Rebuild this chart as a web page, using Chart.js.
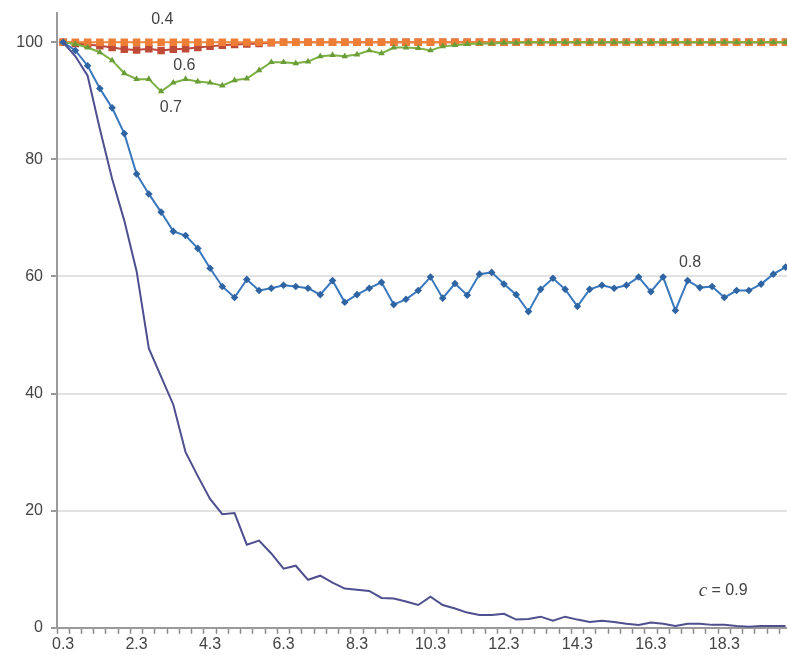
<!DOCTYPE html>
<html>
<head>
<meta charset="utf-8">
<script src="https://cdn.jsdelivr.net/npm/chart.js@4"></script>
<style>
  html, body { margin: 0; padding: 0; background: #fff; overflow: hidden; }
  #wrap { position: relative; width: 797px; height: 655px; }
</style>
</head>
<body>
<div id="wrap"><canvas id="decayChart"></canvas></div>
<script>
// Share of surviving runs (%) over time, one curve per c value

// time steps of 1/3, shown with one decimal (0.3, 0.7, 1.0, ...)
const steps = [];
for (let k = 1; k <= 60; k++) steps.push((k / 3).toFixed(1));

const c09 = [
  100, 97.6, 94.3, 85.2, 76.7, 69.5, 60.9, 47.7, 42.9, 38.1,
  30.0, 25.9, 22.0, 19.4, 19.6, 14.2, 14.9, 12.7, 10.1, 10.6,
  8.2, 8.9, 7.7, 6.7, 6.5, 6.3, 5.1, 5.0, 4.5, 3.9,
  5.3, 3.9, 3.3, 2.6, 2.2, 2.2, 2.4, 1.4, 1.5, 1.9,
  1.2, 1.9, 1.4, 1.0, 1.2, 1.0, 0.7, 0.5, 0.9, 0.7,
  0.3, 0.7, 0.7, 0.5, 0.5, 0.3, 0.2, 0.3, 0.3, 0.3,
];

const c08 = [
  100, 98.6, 96.0, 92.1, 88.8, 84.4, 77.5, 74.1, 71.0, 67.7,
  67.0, 64.8, 61.4, 58.3, 56.4, 59.5, 57.6, 58.0, 58.5, 58.3,
  58.0, 56.9, 59.3, 55.6, 56.9, 58.0, 59.0, 55.2, 56.1, 57.6,
  59.9, 56.3, 58.8, 56.8, 60.4, 60.7, 58.7, 56.9, 54.0, 57.8,
  59.7, 57.8, 54.9, 57.8, 58.5, 58.0, 58.5, 59.9, 57.4, 59.9,
  54.2, 59.3, 58.1, 58.3, 56.4, 57.6, 57.6, 58.7, 60.4, 61.6,
];

const c07 = [
  100, 99.7, 99.1, 98.3, 96.9, 94.7, 93.7, 93.7, 91.6, 93.1,
  93.7, 93.3, 93.1, 92.6, 93.5, 93.8, 95.2, 96.6, 96.6, 96.4,
  96.7, 97.6, 97.8, 97.6, 97.9, 98.6, 98.1, 99.1, 99.1, 99.0,
  98.6, 99.3, 99.5, 99.7, 99.8, 99.8, 99.9, 99.9, 100, 100,
  100, 100, 100, 100, 100, 100, 100, 100, 100, 100,
  100, 100, 100, 100, 100, 100, 100, 100, 100, 100,
];

const c06 = [
  100, 99.8, 99.6, 99.4, 99.1, 98.8, 98.7, 98.9, 98.6, 98.8,
  98.9, 99.1, 99.3, 99.5, 99.6, 99.7, 99.8, 99.9, 100, 100,
  100, 100, 100, 100, 100, 100, 100, 100, 100, 100,
  100, 100, 100, 100, 100, 100, 100, 100, 100, 100,
  100, 100, 100, 100, 100, 100, 100, 100, 100, 100,
  100, 100, 100, 100, 100, 100, 100, 100, 100, 100,
];

const c04 = [
  100, 100, 100, 100, 100, 100, 100, 100, 100, 100,
  100, 100, 100, 100, 100, 100, 100, 100, 100, 100,
  100, 100, 100, 100, 100, 100, 100, 100, 100, 100,
  100, 100, 100, 100, 100, 100, 100, 100, 100, 100,
  100, 100, 100, 100, 100, 100, 100, 100, 100, 100,
  100, 100, 100, 100, 100, 100, 100, 100, 100, 100,
];

const yTicks = [0, 20, 40, 60, 80, 100];

// curve labels: text, step index, value
const notes = [
  { text: "0.4", at: 8.1, value: 103.8 },
  { text: "0.6", at: 9.9, value: 96.1 },
  { text: "0.7", at: 8.8, value: 88.9 },
  { text: "0.8", at: 51.2, value: 62.4 },
];
const cNote = { at: 53.9, value: 6.3 };

const FONT = "'Liberation Sans', Arial, sans-serif";

const notesPlugin = {
  id: "notes",
  afterDatasetsDraw(chart) {
    const ctx = chart.ctx;
    const x = chart.scales.x;
    const y = chart.scales.y;
    ctx.save();
    ctx.fillStyle = "#444";
    ctx.textBaseline = "middle";
    ctx.textAlign = "center";
    ctx.font = "16px " + FONT;
    notes.forEach((n) => {
      ctx.fillText(n.text, x.getPixelForValue(n.at), y.getPixelForValue(n.value));
    });
    // "c = 0.9" with an italic c
    const px = x.getPixelForValue(cNote.at);
    const py = y.getPixelForValue(cNote.value);
    ctx.font = "italic 19px 'Liberation Serif', serif";
    const w1 = ctx.measureText("c").width;
    ctx.font = "16px " + FONT;
    const w2 = ctx.measureText(" = 0.9").width;
    let left = px - (w1 + w2) / 2;
    ctx.textAlign = "left";
    ctx.font = "italic 19px 'Liberation Serif', serif";
    ctx.fillText("c", left, py);
    ctx.font = "16px " + FONT;
    ctx.fillText(" = 0.9", left + w1, py);
    ctx.restore();
  },
};

const data = {
  labels: steps,
  datasets: [
    {
      label: "0.9",
      data: c09,
      borderColor: "#4d4f8e",
      borderWidth: 2,
      pointRadius: 0,
    },
    {
      label: "0.8",
      data: c08,
      borderColor: "#3a78bd",
      backgroundColor: "#2f64a3",
      borderWidth: 2,
      pointStyle: "rectRot",
      pointRadius: 3.8,
      pointBorderWidth: 0,
    },
    {
      label: "0.7",
      data: c07,
      borderColor: "#7bb043",
      backgroundColor: "#6a9c38",
      borderWidth: 2,
      pointStyle: "triangle",
      pointRadius: 3.8,
      pointBorderWidth: 0,
    },
    {
      label: "0.4",
      data: c04,
      borderColor: "#f08a3e",
      backgroundColor: "#ee7d35",
      borderWidth: 2,
      pointStyle: "rect",
      pointRadius: 5.3,
      pointBorderWidth: 0,
    },
    {
      label: "0.6",
      data: c06,
      borderColor: "#c0463a",
      backgroundColor: "#c04a38",
      borderWidth: 2,
      pointStyle: "rect",
      pointRadius: 5.3,
      pointBorderWidth: 0,
    },
  ],
};

const config = {
  type: "line",
  data: data,
  options: {
    responsive: true,
    maintainAspectRatio: false,
    animation: false,
    layout: { padding: { top: 13, right: 0, left: 0, bottom: 0 } },
    scales: {
      x: {
        type: "category",
        offset: true,
        grid: {
          offset: true,
          drawOnChartArea: false,
          drawTicks: true,
          tickLength: 6,
          tickColor: "#8a8a8a",
          tickWidth: 1.5,
        },
        border: { color: "#9a9a9a", width: 2 },
        ticks: {
          autoSkip: false,
          maxRotation: 0,
          padding: 1,
          color: "#444",
          font: { family: FONT, size: 16 },
          callback: function (value, index) {
            return index % 6 === 0 ? steps[index] : "";
          },
        },
      },
      y: {
        min: 0,
        max: 105,
        afterBuildTicks: (axis) => {
          axis.ticks = yTicks.map((v) => ({ value: v }));
        },
        afterFit: (axis) => {
          axis.width = 57;
          axis.paddingTop = 0;
          axis.paddingBottom = 0;
        },
        grid: {
          color: (c) => (c.tick && c.tick.value === 0 ? "rgba(0,0,0,0)" : "#e2e2e2"),
          lineWidth: 2,
          tickLength: 6,
          tickColor: "#9a9a9a",
        },
        border: { color: "#9a9a9a", width: 2 },
        ticks: {
          padding: 8,
          color: "#444",
          font: { family: FONT, size: 16 },
        },
      },
    },
    plugins: {
      legend: { display: false },
      tooltip: { enabled: false },
    },
  },
  plugins: [notesPlugin],
};

const decayChart = new Chart(document.getElementById("decayChart").getContext("2d"), config);
</script>
</body>
</html>
